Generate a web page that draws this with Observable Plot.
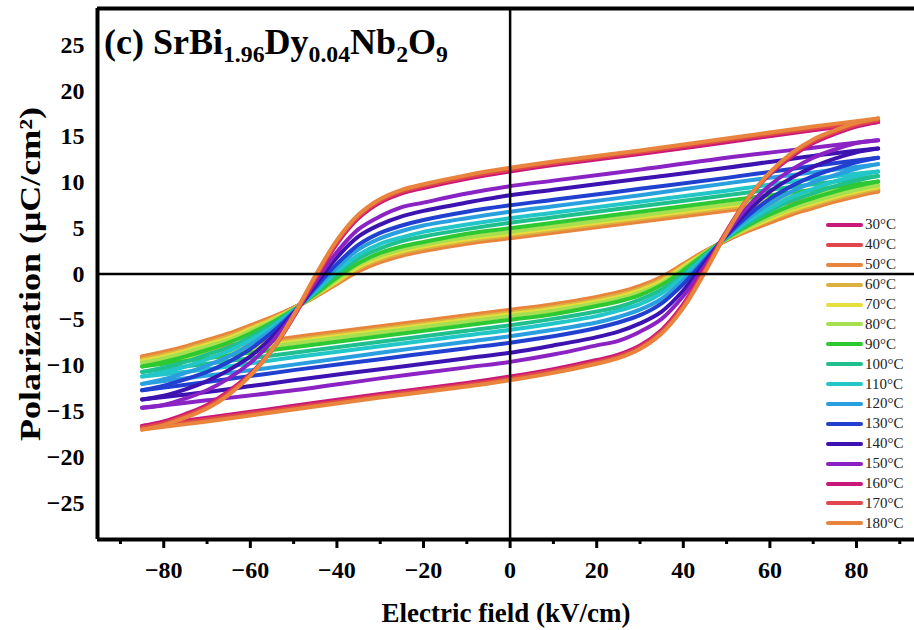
<!DOCTYPE html>
<html><head><meta charset="utf-8">
<script src="https://cdn.jsdelivr.net/npm/d3@7"></script>
<script src="https://cdn.jsdelivr.net/npm/@observablehq/plot@0.6"></script>
<style>
body{margin:0;background:#fff}
#wrap{position:relative;width:914px;height:630px;overflow:hidden;font-family:"Liberation Serif","Times New Roman",serif}
#title{position:absolute;left:104px;top:24px;font-size:36px;line-height:36px;font-weight:bold;white-space:nowrap;color:#000}
#title sub{font-size:0.66em;vertical-align:baseline;position:relative;top:0.32em}
#ylabel{position:absolute;left:30px;top:274px;font-size:30px;line-height:30px;font-weight:bold;white-space:nowrap;color:#000;
  transform:translate(-50%,-50%) rotate(-90deg) scaleX(1.2)}
#legend{position:absolute;left:826px;top:215px}
.row{height:19.9px;display:flex;align-items:center;font-size:15px;color:#222}
.sw{width:37px;height:4px;border-radius:2px;margin-right:2px}
</style></head>
<body><div id="wrap"><div id="chart"></div>
<div id="title">(c) SrBi<sub>1.96</sub>Dy<sub>0.04</sub>Nb<sub>2</sub>O<sub>9</sub></div>
<div id="ylabel">Polarization (μC/cm²)</div>
<div id="legend"></div></div>
<script>
const temps = ["30°C","40°C","50°C","60°C","70°C","80°C","90°C","100°C","110°C","120°C","130°C","140°C","150°C","160°C","170°C","180°C"];
const colors = ["#c8197a","#e0464a","#e8843c","#dcb040","#e6de3c","#a6e050","#2ec832","#1fbf8e","#22c6c8","#2a9fe0","#2140d0","#3c12b0","#8a22c4","#c8197a","#e0464a","#e8843c"];
// descending branch (field swept from +85 down to -85), P in µC/cm²
const fieldDown = [85, 70, 50, 30, 10, 0, -10, -20, -25, -30, -35, -40, -45, -50, -55, -60, -65, -70, -75, -80, -85];
const polDown = [
  [9.2, 8.3, 7.1, 5.9, 4.7, 4.1, 3.5, 2.7, 2.2, 1.5, 0.5, -1.0, -2.4, -3.7, -4.8, -5.8, -6.7, -7.4, -8.1, -8.7, -9.2],
  [9.1, 8.2, 7.0, 5.8, 4.6, 4.0, 3.4, 2.6, 2.1, 1.4, 0.4, -1.0, -2.4, -3.7, -4.8, -5.7, -6.6, -7.3, -8.0, -8.6, -9.1],
  [9.0, 8.1, 6.9, 5.7, 4.5, 3.9, 3.3, 2.5, 2.0, 1.3, 0.3, -1.1, -2.5, -3.7, -4.7, -5.6, -6.5, -7.2, -7.9, -8.5, -9.0],
  [9.3, 8.4, 7.2, 6.0, 4.8, 4.2, 3.6, 2.8, 2.3, 1.6, 0.6, -0.9, -2.4, -3.8, -4.9, -5.9, -6.8, -7.5, -8.2, -8.8, -9.3],
  [9.5, 8.6, 7.4, 6.2, 5.0, 4.4, 3.8, 3.0, 2.5, 1.8, 0.8, -0.8, -2.3, -3.8, -5.0, -6.0, -7.0, -7.7, -8.4, -9.0, -9.5],
  [9.7, 8.8, 7.6, 6.4, 5.2, 4.6, 4.0, 3.2, 2.7, 2.0, 1.0, -0.6, -2.3, -3.8, -5.1, -6.2, -7.2, -7.9, -8.6, -9.2, -9.7],
  [10.1, 9.2, 8.0, 6.8, 5.6, 5.0, 4.4, 3.5, 3.0, 2.3, 1.2, -0.4, -2.2, -3.9, -5.3, -6.5, -7.5, -8.3, -9.0, -9.6, -10.1],
  [10.7, 9.8, 8.6, 7.4, 6.2, 5.6, 4.9, 4.1, 3.6, 2.8, 1.7, 0.0, -2.0, -4.0, -5.5, -6.9, -8.0, -8.8, -9.6, -10.2, -10.7],
  [11.2, 10.4, 9.1, 7.9, 6.7, 6.1, 5.4, 4.6, 4.0, 3.3, 2.1, 0.3, -1.9, -4.0, -5.8, -7.2, -8.4, -9.3, -10.1, -10.7, -11.2],
  [12.0, 11.1, 9.9, 8.6, 7.4, 6.8, 6.1, 5.3, 4.7, 3.9, 2.7, 0.7, -1.7, -4.1, -6.1, -7.7, -9.0, -10.0, -10.8, -11.5, -12.0],
  [12.7, 11.8, 10.5, 9.3, 8.1, 7.5, 6.8, 5.9, 5.3, 4.5, 3.2, 1.1, -1.5, -4.2, -6.4, -8.2, -9.6, -10.7, -11.5, -12.2, -12.7],
  [13.7, 12.9, 11.6, 10.4, 9.2, 8.6, 7.8, 6.9, 6.3, 5.4, 4.1, 1.8, -1.2, -4.3, -6.9, -9.0, -10.5, -11.7, -12.6, -13.3, -13.7],
  [14.6, 13.8, 12.7, 11.4, 10.2, 9.6, 8.8, 7.8, 7.3, 6.3, 4.9, 2.4, -0.9, -4.4, -7.4, -9.7, -11.4, -12.7, -13.6, -14.3, -14.6],
  [16.6, 15.7, 14.4, 13.1, 11.9, 11.2, 10.4, 9.4, 8.8, 7.8, 6.1, 3.3, -0.6, -4.7, -8.3, -10.9, -12.8, -14.3, -15.3, -16.1, -16.6],
  [16.8, 15.9, 14.6, 13.3, 12.1, 11.4, 10.6, 9.6, 9.0, 8.0, 6.3, 3.5, -0.4, -4.6, -8.3, -11.0, -13.0, -14.5, -15.5, -16.3, -16.8],
  [17.0, 16.1, 14.8, 13.5, 12.3, 11.6, 10.8, 9.8, 9.2, 8.2, 6.5, 3.7, -0.2, -4.5, -8.3, -11.1, -13.2, -14.7, -15.7, -16.5, -17.0]
];
// ascending branch (field swept from -85 up to +85)
const fieldUp = [-85, -70, -50, -30, -10, 0, 10, 20, 25, 30, 35, 40, 45, 50, 55, 60, 65, 70, 75, 80, 85];
const polUp = [
  [-9.2, -8.3, -7.1, -5.9, -4.7, -4.1, -3.5, -2.7, -2.2, -1.5, -0.5, 1.0, 2.4, 3.7, 4.8, 5.8, 6.7, 7.4, 8.1, 8.7, 9.2],
  [-9.1, -8.2, -7.0, -5.8, -4.6, -4.0, -3.4, -2.6, -2.1, -1.4, -0.4, 1.0, 2.4, 3.7, 4.8, 5.7, 6.6, 7.3, 8.0, 8.6, 9.1],
  [-9.0, -8.1, -6.9, -5.7, -4.5, -3.9, -3.3, -2.5, -2.0, -1.3, -0.3, 1.1, 2.5, 3.7, 4.7, 5.6, 6.5, 7.2, 7.9, 8.5, 9.0],
  [-9.3, -8.4, -7.2, -6.0, -4.8, -4.2, -3.6, -2.8, -2.3, -1.6, -0.6, 0.9, 2.4, 3.8, 4.9, 5.9, 6.8, 7.5, 8.2, 8.8, 9.3],
  [-9.5, -8.6, -7.4, -6.2, -5.0, -4.4, -3.8, -3.0, -2.5, -1.8, -0.8, 0.8, 2.3, 3.8, 5.0, 6.0, 7.0, 7.7, 8.4, 9.0, 9.5],
  [-9.7, -8.8, -7.6, -6.4, -5.2, -4.6, -4.0, -3.2, -2.7, -2.0, -1.0, 0.6, 2.3, 3.8, 5.1, 6.2, 7.2, 7.9, 8.6, 9.2, 9.7],
  [-10.1, -9.2, -8.0, -6.8, -5.6, -5.0, -4.4, -3.5, -3.0, -2.3, -1.2, 0.4, 2.2, 3.9, 5.3, 6.5, 7.5, 8.3, 9.0, 9.6, 10.1],
  [-10.7, -9.8, -8.6, -7.4, -6.2, -5.6, -4.9, -4.1, -3.6, -2.8, -1.7, 0.0, 2.0, 4.0, 5.5, 6.9, 8.0, 8.8, 9.6, 10.2, 10.7],
  [-11.2, -10.4, -9.1, -7.9, -6.7, -6.1, -5.4, -4.6, -4.0, -3.3, -2.1, -0.3, 1.9, 4.0, 5.8, 7.2, 8.4, 9.3, 10.1, 10.7, 11.2],
  [-12.0, -11.1, -9.9, -8.6, -7.4, -6.8, -6.1, -5.3, -4.7, -3.9, -2.7, -0.7, 1.7, 4.1, 6.1, 7.7, 9.0, 10.0, 10.8, 11.5, 12.0],
  [-12.7, -11.8, -10.5, -9.3, -8.1, -7.5, -6.8, -5.9, -5.3, -4.5, -3.2, -1.1, 1.5, 4.2, 6.4, 8.2, 9.6, 10.7, 11.5, 12.2, 12.7],
  [-13.7, -12.9, -11.6, -10.4, -9.2, -8.6, -7.8, -6.9, -6.3, -5.4, -4.1, -1.8, 1.2, 4.3, 6.9, 9.0, 10.5, 11.7, 12.6, 13.3, 13.7],
  [-14.6, -13.8, -12.7, -11.4, -10.2, -9.6, -8.8, -7.8, -7.3, -6.3, -4.9, -2.4, 0.9, 4.4, 7.4, 9.7, 11.4, 12.7, 13.6, 14.3, 14.6],
  [-16.6, -15.7, -14.4, -13.1, -11.9, -11.2, -10.4, -9.4, -8.8, -7.8, -6.1, -3.3, 0.6, 4.7, 8.3, 10.9, 12.8, 14.3, 15.3, 16.1, 16.6],
  [-16.8, -15.9, -14.6, -13.3, -12.1, -11.4, -10.6, -9.6, -9.0, -8.0, -6.3, -3.5, 0.4, 4.6, 8.3, 11.0, 13.0, 14.5, 15.5, 16.3, 16.8],
  [-17.0, -16.1, -14.8, -13.5, -12.3, -11.6, -10.8, -9.8, -9.2, -8.2, -6.5, -3.7, 0.2, 4.5, 8.3, 11.1, 13.2, 14.7, 15.7, 16.5, 17.0]
];
const xTicks = [-80, -60, -40, -20, 0, 20, 40, 60, 80];
const xMinorTicks = [-90, -70, -50, -30, -10, 10, 30, 50, 70, 90];
const yTicks = [-25, -20, -15, -10, -5, 0, 5, 10, 15, 20, 25];
const xDomain = [-95.3, 93.4];
const yDomain = [-29, 29];

const rows = [];
temps.forEach((t, i) => {
  fieldDown.forEach((E, j) => rows.push({E, P: polDown[i][j], key: t + "-down", color: colors[i]}));
  fieldUp.forEach((E, j) => rows.push({E, P: polUp[i][j], key: t + "-up", color: colors[i]}));
});

const chart = Plot.plot({
  width: 914, height: 630,
  marginLeft: 97, marginRight: 0, marginTop: 8, marginBottom: 91,
  x: {domain: xDomain},
  y: {domain: yDomain},
  color: {type: "identity"},
  style: {fontFamily: "'Liberation Serif', 'Times New Roman', serif", fontSize: "24px", fontWeight: "bold", color: "#000", background: "#fff"},
  marks: [
    Plot.line(rows, {x: "E", y: "P", z: "key", stroke: "color", strokeWidth: 4, curve: "catmull-rom"}),
    Plot.ruleX([0], {stroke: "#000", strokeWidth: 2.5}),
    Plot.ruleY([0], {stroke: "#000", strokeWidth: 2.5}),
    Plot.ruleX([xDomain[0]], {stroke: "#000", strokeWidth: 4}),
    Plot.ruleY([yDomain[0]], {stroke: "#000", strokeWidth: 4}),
    Plot.ruleY([yDomain[1]], {stroke: "#000", strokeWidth: 4}),
    Plot.axisX({ticks: xTicks, tickSize: 9, tickPadding: 12, strokeWidth: 3, fontSize: 24, fontWeight: "bold", label: null}),
    Plot.axisX({ticks: xMinorTicks.filter(d => d > xDomain[0] && d < xDomain[1]), tickSize: 5, strokeWidth: 3, tickFormat: () => "", label: null}),
    Plot.axisX({ticks: [], tickSize: 0, fontSize: 27, fontWeight: "bold",
      label: "Electric field (kV/cm)", labelAnchor: "center", labelOffset: 82, labelArrow: "none"}),
    Plot.axisY({ticks: yTicks, tickSize: 0, tickPadding: 13, fontSize: 24, fontWeight: "bold", label: null})
  ]
});
document.getElementById("chart").appendChild(chart);

const legend = document.getElementById("legend");
temps.forEach((t, i) => {
  const row = document.createElement("div");
  row.className = "row";
  const sw = document.createElement("span");
  sw.className = "sw";
  sw.style.background = colors[i];
  const lab = document.createElement("span");
  lab.textContent = t;
  row.appendChild(sw); row.appendChild(lab);
  legend.appendChild(row);
});
</script></body></html>
